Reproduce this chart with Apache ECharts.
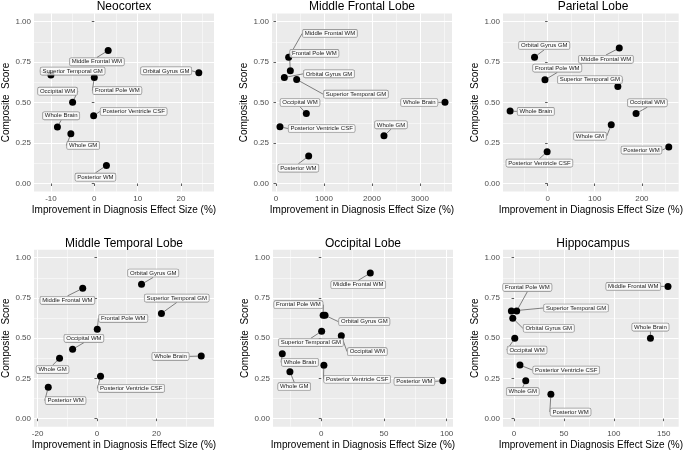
<!DOCTYPE html>
<html><head><meta charset="utf-8">
<script src="https://cdn.jsdelivr.net/npm/echarts@6/dist/echarts.min.js"></script>
<style>html,body{margin:0;padding:0;background:#fff}#c{width:685px;height:453px}</style>
</head><body><div id="c"></div>
<script>
// ---------- DATA ----------
const regions = ['Middle Frontal WM', 'Frontal Pole WM', 'Orbital Gyrus GM', 'Superior Temporal GM',
  'Occipital WM', 'Whole Brain', 'Posterior Ventricle CSF', 'Whole GM', 'Posterior WM'];
const panelTitles = ['Neocortex', 'Middle Frontal Lobe', 'Parietal Lobe', 'Middle Temporal Lobe', 'Occipital Lobe', 'Hippocampus'];
const xTitle = 'Improvement in Diagnosis Effect Size (%)';
const yTitle = 'Composite  Score';

const neocortexX = [3.2, 0.0, 24.1, -10.0, -5.0, -8.5, -0.15, -5.4, 2.8];
const neocortexY = [0.821, 0.654, 0.683, 0.669, 0.502, 0.348, 0.418, 0.307, 0.111];
const middleFrontalX = [264, 299, 174, 431, 632, 3521, 83, 2250, 681];
const middleFrontalY = [0.780, 0.696, 0.654, 0.642, 0.432, 0.502, 0.350, 0.294, 0.169];
const parietalX = [152, -5.6, -27.7, 149, 187.6, -79.5, -1, 135, 257];
const parietalY = [0.836, 0.640, 0.780, 0.599, 0.432, 0.447, 0.196, 0.362, 0.225];
const middleTemporalX = [-4.8, 0.1, 15.0, 21.7, -8.2, 35.1, 1.2, -12.6, -16.4];
const middleTemporalY = [0.810, 0.555, 0.835, 0.654, 0.431, 0.389, 0.263, 0.375, 0.195];
const occipitalX = [39.1, 1.5, 3.0, 0.3, 16.0, -31.1, 2.1, -25.0, 96.9];
const occipitalY = [0.905, 0.642, 0.642, 0.543, 0.516, 0.404, 0.332, 0.292, 0.236];
const hippocampusX = [154.3, 2.6, -1.3, -2.7, 0.7, 136.7, 5.9, 11.7, 36.9];
const hippocampusY = [0.822, 0.669, 0.624, 0.669, 0.499, 0.499, 0.333, 0.236, 0.151];

const xMajorTicks = [[-10, 0, 10, 20], [0, 1000, 2000, 3000], [0, 100, 200], [-20, 0, 20], [0, 50, 100], [0, 50, 100, 150]];
const xMinorTicks = [[-5, 5, 15, 25], [500, 1500, 2500, 3500], [-50, 50, 150, 250], [-10, 10, 30], [-25, 25, 75], [25, 75, 125]];
const xLimits = [[-13.9, 27.6], [-83, 3667], [-94.6, 278], [-21.2, 39.4], [-38.5, 105.1], [-11.1, 165]];
const yMajorTicks = [0, 0.25, 0.5, 0.75, 1];
const yMinorTicks = [0.125, 0.375, 0.625, 0.875];
const yLimits = [-0.05, 1.05];

// ---------- LAYOUT ----------
const panelX = [neocortexX, middleFrontalX, parietalX, middleTemporalX, occipitalX, hippocampusX];
const panelY = [neocortexY, middleFrontalY, parietalY, middleTemporalY, occipitalY, hippocampusY];
const gridBoxes = [
  [34, 13.4, 180, 178.2], [272, 13.4, 180, 178.2], [503, 13.4, 180, 178.2],
  [34, 249.7, 180, 177], [273, 249.7, 180, 177], [503, 249.7, 180, 177]
];
// label centre offsets (px) from each point, ggrepel-like placement
const labelOffsets = [
  [[-11.3, 11.3], [23, 13], [-32.7, -2], [21.7, -4], [-15, -11], [3.7, -11.3], [40, -4.3], [12.3, 11.7], [-11, 11.7]],
  [[41.3, -23.7], [24, -17.3], [44.7, -3.7], [59.3, 14.7], [-6.3, -11], [-25.7, 0.3], [41.7, 1.7], [7, -11], [-10.3, 12]],
  [[-13.3, 11.3], [12.3, -11.7], [9.7, -11.7], [-28, -6.7], [11.3, -10.7], [25.7, 0.3], [-7.7, 11.3], [-21.3, 11.3], [-27.3, 3]],
  [[-15.3, 12], [26, -11], [11.7, -11.3], [15.3, -15.3], [11.3, -11], [-30.7, 0.3], [30.7, 12], [-7, 11.3], [17.3, 13.3]],
  [[-12, 11.7], [-24.7, -10.7], [39.3, 6.3], [-10.7, 11.3], [26, 16], [17.7, 8.7], [33.3, 14], [4.3, 15], [-28.3, 0.7]],
  [[-34.7, 0], [10.7, -23.7], [36, 10], [64.7, -3], [12.3, 11.7], [0, -11.3], [46.3, 5], [-3, 11], [19.7, 17.7]]
];
const FONT = '"Liberation Sans", Arial, Helvetica, sans-serif';

const grids = [], xAxes = [], yAxes = [], series = [], graphics = [];
panelTitles.forEach((t, i) => {
  const g = gridBoxes[i];
  grids.push({ left: g[0], top: g[1], width: g[2], height: g[3], show: true, backgroundColor: '#EBEBEB', borderWidth: 0 });
  graphics.push({ type: 'text', x: g[0] + g[2] / 2, y: g[1] - 6.5, style: { text: t, align: 'center', verticalAlign: 'middle', font: '12px ' + FONT, fill: '#000' } });
  xAxes.push({
    type: 'value', gridIndex: i, min: xLimits[i][0], max: xLimits[i][1], position: 'bottom',
    name: xTitle, nameLocation: 'middle', nameGap: 14,
    nameTextStyle: { fontSize: 10, color: '#000', fontFamily: FONT },
    axisLine: { show: false },
    axisTick: { show: true, customValues: xMajorTicks[i], length: 2.5, lineStyle: { color: '#333', width: 0.8 } },
    axisLabel: { customValues: xMajorTicks[i], margin: 3, fontSize: 8, color: '#4D4D4D', fontFamily: FONT, formatter: v => String(v) },
    splitLine: { show: true, lineStyle: { color: '#fff', width: 1.1 } }
  });
  xAxes.push({
    type: 'value', gridIndex: i, min: xLimits[i][0], max: xLimits[i][1], position: 'top',
    axisLine: { show: false }, axisTick: { show: false, customValues: xMinorTicks[i] }, axisLabel: { show: false },
    splitLine: { show: true, lineStyle: { color: '#fff', width: 0.5 } }
  });
  yAxes.push({
    type: 'value', gridIndex: i, min: yLimits[0], max: yLimits[1], position: 'left',
    name: yTitle, nameLocation: 'middle', nameGap: 23,
    nameTextStyle: { fontSize: 10, color: '#000', fontFamily: FONT },
    axisLine: { show: false },
    axisTick: { show: true, customValues: yMajorTicks, length: 2.5, lineStyle: { color: '#333', width: 0.8 } },
    axisLabel: { customValues: yMajorTicks, margin: 3, fontSize: 8, color: '#4D4D4D', fontFamily: FONT, formatter: v => v.toFixed(2) },
    splitLine: { show: true, lineStyle: { color: '#fff', width: 1.1 } }
  });
  yAxes.push({
    type: 'value', gridIndex: i, min: yLimits[0], max: yLimits[1], position: 'right',
    axisLine: { show: false }, axisTick: { show: false, customValues: yMinorTicks }, axisLabel: { show: false },
    splitLine: { show: true, lineStyle: { color: '#fff', width: 0.5 } }
  });
  const offs = labelOffsets[i];
  series.push({
    type: 'scatter', xAxisIndex: 2 * i, yAxisIndex: 2 * i, symbolSize: 7,
    itemStyle: { color: '#000', opacity: 1 },
    data: regions.map((r, k) => ({ name: r, value: [panelX[i][k], panelY[i][k]] })),
    label: {
      show: true, formatter: '{b}', position: 'inside', fontSize: 6, color: '#222', fontFamily: FONT,
      backgroundColor: 'rgba(255,255,255,0.7)', borderColor: '#8a8a8a', borderWidth: 0.6, borderRadius: 1.5, padding: [1, 2, 0.5, 2]
    },
    labelLayout: p => ({ dx: offs[p.dataIndex][0], dy: offs[p.dataIndex][1] }),
    labelLine: { show: true, lineStyle: { color: '#333', width: 0.6 } },
    emphasis: { disabled: true }
  });
});

const chart = echarts.init(document.getElementById('c'), null, { renderer: 'canvas' });
chart.setOption({
  animation: false,
  backgroundColor: '#fff',
  grid: grids, xAxis: xAxes, yAxis: yAxes, series: series,
  graphic: graphics
});
</script></body></html>
